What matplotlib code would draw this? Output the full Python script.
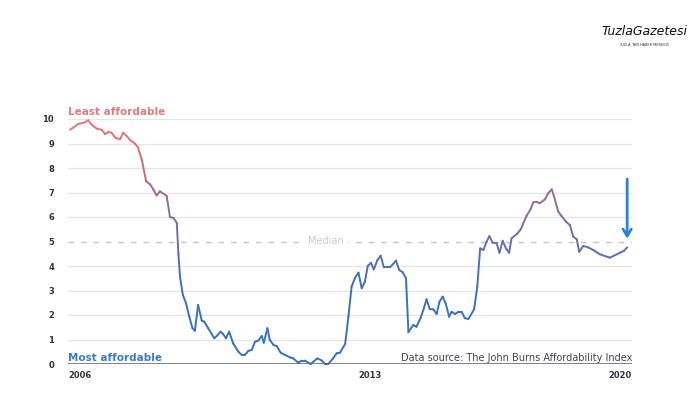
import numpy as np
import matplotlib.pyplot as plt
from matplotlib.collections import LineCollection
from matplotlib.colors import LinearSegmentedColormap

# John Burns affordability index (decimal year, index)
years = [2006.05, 2006.26, 2006.42, 2006.50, 2006.59, 2006.71, 2006.84, 2006.92, 2007.00, 2007.08,
         2007.17, 2007.29, 2007.37, 2007.46, 2007.54, 2007.66, 2007.74, 2007.83, 2007.94, 2008.04,
         2008.12, 2008.20, 2008.28, 2008.45, 2008.53, 2008.62, 2008.70, 2008.74, 2008.78, 2008.85,
         2008.93, 2009.01, 2009.09, 2009.15, 2009.23, 2009.32, 2009.38, 2009.48, 2009.63, 2009.69,
         2009.79, 2009.85, 2009.92, 2010.00, 2010.10, 2010.23, 2010.31, 2010.39, 2010.48, 2010.56,
         2010.64, 2010.72, 2010.81, 2010.86, 2010.95, 2011.01, 2011.10, 2011.18, 2011.28, 2011.39,
         2011.51, 2011.59, 2011.72, 2011.80, 2011.88, 2012.02, 2012.19, 2012.30, 2012.38, 2012.46,
         2012.58, 2012.67, 2012.75, 2012.88, 2012.96, 2013.04, 2013.12, 2013.21, 2013.29, 2013.37,
         2013.44, 2013.52, 2013.59, 2013.68, 2013.76, 2013.84, 2013.99, 2014.07, 2014.14, 2014.22,
         2014.31, 2014.39, 2014.45, 2014.57, 2014.65, 2014.75, 2014.84, 2014.90, 2014.98, 2015.07,
         2015.15, 2015.22, 2015.30, 2015.38, 2015.46, 2015.52, 2015.61, 2015.69, 2015.77, 2015.85,
         2015.94, 2016.08, 2016.16, 2016.23, 2016.31, 2016.39, 2016.46, 2016.54, 2016.64, 2016.71,
         2016.79, 2016.87, 2016.95, 2017.01, 2017.14, 2017.24, 2017.30, 2017.38, 2017.48, 2017.55,
         2017.63, 2017.71, 2017.84, 2017.92, 2018.01, 2018.09, 2018.17, 2018.25, 2018.36, 2018.46,
         2018.54, 2018.63, 2018.69, 2018.79, 2018.91, 2019.04, 2019.20, 2019.45, 2019.70, 2019.80,
         2019.88]
index = [9.56, 9.80, 9.86, 9.95, 9.76, 9.61, 9.56, 9.38, 9.47, 9.44,
         9.24, 9.17, 9.44, 9.30, 9.14, 9.00, 8.83, 8.35, 7.46, 7.33,
         7.12, 6.88, 7.05, 6.86, 6.00, 5.96, 5.76, 4.52, 3.57, 2.82,
         2.48, 1.93, 1.46, 1.36, 2.41, 1.77, 1.73, 1.46, 1.05, 1.14,
         1.32, 1.22, 1.05, 1.32, 0.84, 0.50, 0.37, 0.37, 0.54, 0.57,
         0.91, 0.95, 1.14, 0.87, 1.46, 0.98, 0.78, 0.73, 0.46, 0.37,
         0.27, 0.23, 0.05, 0.14, 0.14, 0.00, 0.23, 0.14, 0.00, 0.00,
         0.23, 0.44, 0.46, 0.82, 1.93, 3.16, 3.50, 3.73, 3.09, 3.36,
         4.00, 4.13, 3.86, 4.24, 4.42, 3.95, 3.95, 4.08, 4.22, 3.84,
         3.74, 3.50, 1.30, 1.59, 1.52, 1.87, 2.31, 2.64, 2.24, 2.23,
         2.04, 2.54, 2.75, 2.45, 1.93, 2.13, 2.04, 2.13, 2.13, 1.87,
         1.84, 2.23, 3.16, 4.72, 4.65, 4.99, 5.22, 4.95, 4.93, 4.54,
         5.03, 4.72, 4.54, 5.13, 5.30, 5.50, 5.74, 6.04, 6.31, 6.60,
         6.62, 6.56, 6.72, 6.97, 7.13, 6.69, 6.22, 6.04, 5.81, 5.67,
         5.20, 5.09, 4.58, 4.82, 4.76, 4.65, 4.48, 4.34, 4.54, 4.62,
         4.76]

y_ticks = [0, 1, 2, 3, 4, 5, 6, 7, 8, 9, 10]
x_ticks = [2006, 2013.5, 2020]
x_labels = ["2006", "2013", "2020"]
median = 5
current = 5.0
arrow_top = 7.66

fig = plt.figure(figsize=(7, 4.2), dpi=100)
ax = fig.add_axes([68 / 700, 1 - 364 / 420, 564 / 700, 245 / 420])

# line coloured by value: blue at the bottom, purple in the middle, red at the top
cmap = LinearSegmentedColormap.from_list(
    "afford",
    [(0.0, "#3174c2"), (0.35, "#4070b8"), (0.55, "#7a6ea8"), (0.72, "#a06c98"),
     (0.85, "#e07078"), (1.0, "#e8767c")])
x = np.array(years)
y = np.array(index)
pts = np.column_stack([x, y]).reshape(-1, 1, 2)
segs = np.concatenate([pts[:-1], pts[1:]], axis=1)
lc = LineCollection(segs, cmap=cmap, norm=plt.Normalize(0, 10), linewidth=1.4,
                    capstyle="round", joinstyle="round", zorder=4)
lc.set_array((y[:-1] + y[1:]) / 2)
lc.set_clip_on(False)
ax.add_collection(lc)

# grid
for t in y_ticks[1:]:
    if t == median:
        continue
    ax.axhline(t, color="#e4e4ea", lw=0.9, zorder=1)
ax.axhline(median, color="#c4c4cc", lw=1.0, ls=(0, (4, 5)), zorder=1)
ax.axhline(0, color="#5a5e6a", lw=1.8, zorder=5)
ax.text(2012.4, median, "Median", color="#c9c9dc", fontsize=7, ha="center", va="center",
        bbox=dict(facecolor="white", edgecolor="none", pad=3), zorder=2)

ax.set_xlim(2006, 2020)
ax.set_ylim(0, 10)
for s in ax.spines.values():
    s.set_visible(False)
ax.set_yticks(y_ticks)
ax.set_yticklabels([str(t) for t in y_ticks], fontsize=6, fontweight="bold", color="#333340")
ax.set_xticks(x_ticks)
ax.set_xticklabels(x_labels, fontsize=6, fontweight="bold", color="#333340")
for lab, ha in zip(ax.get_xticklabels(), ["left", "center", "right"]):
    lab.set_ha(ha)
ax.tick_params(length=0, pad=10)
ax.tick_params(axis="x", pad=5)

ax.text(2006, 10.3, "Least affordable", color="#e07a80", fontsize=7.5, fontweight="bold",
        ha="left", va="center")
ax.text(2006, 0.25, "Most affordable", color="#3a7cc4", fontsize=7.5, fontweight="bold",
        ha="left", va="center")
ax.text(2020, 0.25, "Data source: The John Burns Affordability Index", color="#444450",
        fontsize=7, ha="right", va="center")

ax.annotate("", xy=(x[-1], current), xytext=(x[-1], arrow_top),
            arrowprops=dict(arrowstyle="->,head_length=0.5,head_width=0.3",
                            color="#2f80d0", lw=2), zorder=6)

# watermark
fig.text(0.92, 0.925, "TuzlaGazetesi", fontsize=9, style="italic", color="#111111",
         ha="center", va="center")
fig.text(0.92, 0.893, "TUZLA 'NIN HABER MERKEZI", fontsize=2.5, color="#333333",
         ha="center", va="center")

fig.savefig("out.png", dpi=100, facecolor="white")
